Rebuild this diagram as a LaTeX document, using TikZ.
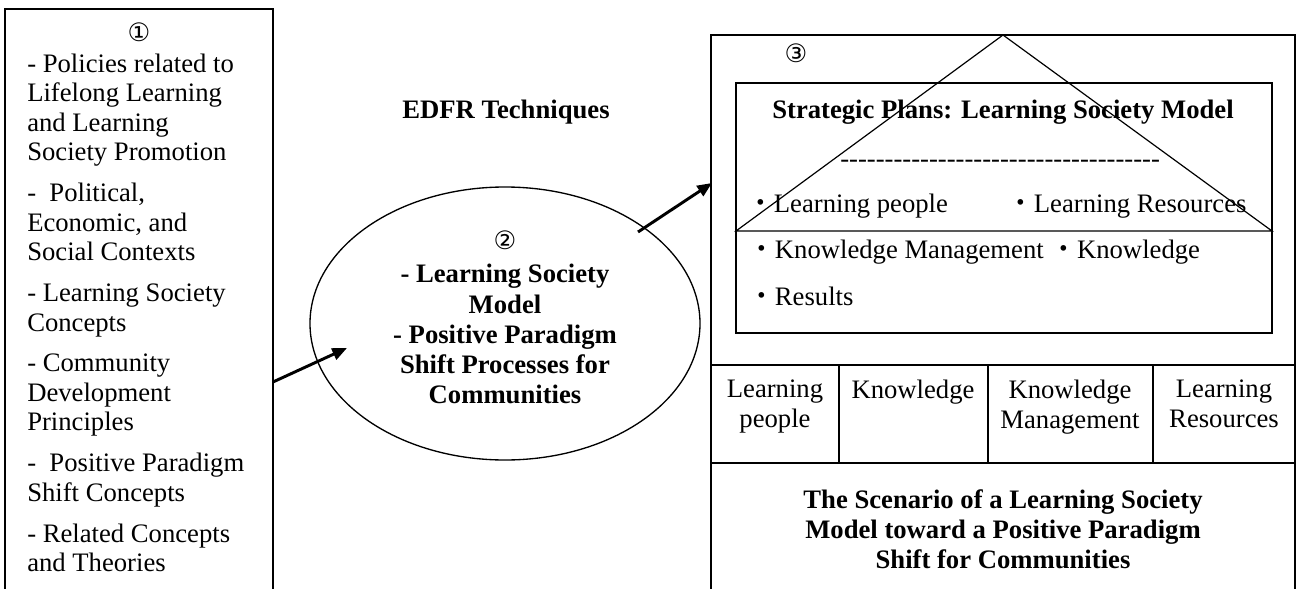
\documentclass[tikz,border=0pt]{standalone}
\usepackage{fontspec}
\setmainfont{Liberation Serif}
\newfontfamily\circfont{DejaVu Sans}
\newfontfamily\dotfont{Noto Sans CJK JP}
\usetikzlibrary{shapes.geometric,arrows.meta}

\begin{document}
\begin{tikzpicture}[x=0.75pt,y=-0.75pt,
    frame/.style={line width=1.1pt},
    plain/.style={inner sep=0pt, font=\fontsize{20}{22.1}\selectfont},
    heavy/.style={inner sep=0pt, font=\fontsize{20}{22.7}\selectfont\bfseries, align=center},
    circ/.style={inner sep=0pt, font=\circfont\fontsize{19}{19}\selectfont},
    arrowline/.style={-{Triangle[length=11pt,width=9pt]}, line width=2.2pt}]
    \useasboundingbox (0,0) rectangle (1296,589);

    % Input box (1)
    \draw[frame] (5,589) |- (273,9) -- (273,589);
    \node[circ] (num1) at (139,32) {①};
    \node[plain, align=left, anchor=north west] (inputs) at (27,53.6) {- Policies related to\\Lifelong Learning\\and Learning\\Society Promotion\\[8.6pt]
        -\ \ Political,\\Economic, and\\Social Contexts\\[8.6pt]
        - Learning Society\\Concepts\\[8.6pt]
        - Community\\Development\\Principles\\[8.6pt]
        -\ \ Positive Paradigm\\Shift Concepts\\[8.6pt]
        - Related Concepts\\and Theories};

    % EDFR (2)
    \node[heavy, anchor=base] (edfr) at (506,118) {EDFR Techniques};
    \node[draw, ellipse, line width=1pt, minimum width=292.5pt, minimum height=204.75pt, inner sep=0pt] (model) at (505,323.5) {};
    \node[circ] (num2) at (505,240) {②};
    \node[heavy, anchor=north] (modeltext) at (505,264) {- Learning Society\\Model\\- Positive Paradigm\\Shift Processes for\\Communities};

    % Scenario (3)
    \draw[frame] (711,589) |- (1295,35) -- (1295,589);
    \node[circ] (num3) at (796,53) {③};
    \draw[frame] (736,83) rectangle (1272,333);
    \draw[line width=0.9pt] (736,231) -- (1003,35) -- (1272,231) -- cycle;
    \node[heavy, anchor=base] (plans) at (1003,118) {Strategic Plans: Learning Society Model};
    \node[plain, anchor=base west] (rule) at (840,167) {\foreach \k in {1,...,36}{-{}}};
    \node[plain, anchor=base west] (item1) at (747,212) {{\dotfont ・}Learning people};
    \node[plain, anchor=base west] (item2) at (1007,212) {{\dotfont ・}Learning Resources};
    \node[plain, anchor=base west] (item3) at (748,258) {{\dotfont ・}Knowledge Management {\dotfont ・}Knowledge};
    \node[plain, anchor=base west] (item4) at (748,305) {{\dotfont ・}Results};

    % cells
    \draw[frame] (711,365) -- (1295,365) (711,463) -- (1295,463);
    \foreach \x in {839,988,1153}
        \draw[frame] (\x,365) -- (\x,463);
    \node[plain, align=center, anchor=north] (cell1) at (775,380) {Learning\\people};
    \node[plain, anchor=base] (cell2) at (913,398) {Knowledge};
    \node[plain, align=center, anchor=north] (cell3) at (1070,380) {Knowledge\\Management};
    \node[plain, align=center, anchor=north] (cell4) at (1224,380) {Learning\\Resources};
    \node[heavy, anchor=north] (scenario) at (1003,489) {The Scenario of a Learning Society\\Model toward a Positive Paradigm\\Shift for Communities};

    % arrows
    \coordinate (inputs-out) at (273,382);
    \coordinate (model-in) at (347,348);
    \coordinate (model-out) at (638,232);
    \coordinate (scenario-in) at (712,183);
    \draw[arrowline] (inputs-out) -- (model-in);
    \draw[arrowline] (model-out) -- (scenario-in);
\end{tikzpicture}
\end{document}
